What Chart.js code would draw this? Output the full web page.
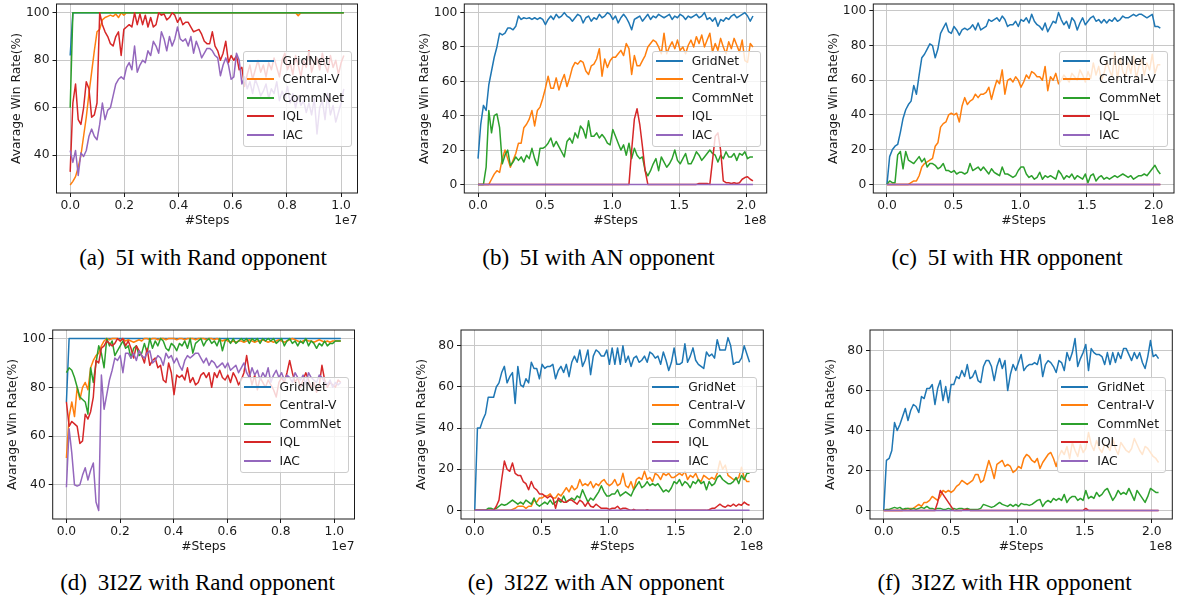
<!DOCTYPE html>
<html>
<head>
<meta charset="utf-8">
<script src="https://cdn.jsdelivr.net/npm/chart.js@4.4.1/dist/chart.umd.min.js"></script>
<style>
  html, body { margin:0; padding:0; background:#fff; }
  body { width:1179px; height:600px; position:relative; overflow:hidden; }
  canvas { position:absolute; }
  .cap { position:absolute; font-family:"Liberation Serif","Times New Roman",serif; font-size:23px; line-height:23px; color:#000; white-space:nowrap; transform:translateX(-50%); }
  .cap .lbl { margin-right:5px; }
  .leg { position:absolute; box-sizing:border-box; width:109px; height:96px; background:rgba(255,255,255,0.8); border:1px solid #cccccc; border-radius:3px; font-family:"DejaVu Sans",sans-serif; font-size:12.3px; color:#1a1a1a; }
  .leg .row { position:absolute; left:0; height:18px; width:100%; }
  .leg .sw { position:absolute; left:3px; top:8px; width:27px; height:2px; }
  .leg .tx { position:absolute; left:39px; top:0; line-height:18px; white-space:nowrap; }
  .off { position:absolute; font-family:"DejaVu Sans",sans-serif; font-size:12.3px; line-height:14px; color:#1a1a1a; transform:translate(-100%,-50%); white-space:nowrap; }
</style>
</head>
<body>
<script>
// ---------------- data ----------------
const NAMES = ['GridNet', 'Central-V', 'CommNet', 'IQL', 'IAC'];
const COLORS = ['#1f77b4', '#ff7f0e', '#2ca02c', '#d62728', '#9467bd'];

const X_TICKS_E7 = [0, 0.2e7, 0.4e7, 0.6e7, 0.8e7, 1.0e7];
const X_TICKS_E8 = [0, 0.5e8, 1.0e8, 1.5e8, 2.0e8];
const Y_TICKS_40_100 = [40, 60, 80, 100];
const Y_TICKS_0_100 = [0, 20, 40, 60, 80, 100];
const Y_TICKS_0_80 = [0, 20, 40, 60, 80];

const CAPTION_LABELS = ['(a)', '(b)', '(c)', '(d)', '(e)', '(f)'];
const CAPTION_TEXTS = ['5I with Rand opponent', '5I with AN opponent', '5I with HR opponent',
  '3I2Z with Rand opponent', '3I2Z with AN opponent', '3I2Z with HR opponent'];

const STEPS_END_A = 1.01e7;
const STEPS_END_D = 1.024e7;
const STEPS_END_LONG = 2.05e8;

// (a) 5I with Rand opponent
const A_GRIDNET = [82,100,100,100,100,100,100,100,100,100,
100,100,100,100,100,100,100,100,100,100,
100,100,100,100,100,100,100,100,100,100,
100,100,100,100,100,100,100,100,100,100,
100,100,100,100,100,100,100,100,100,100,
100,100,100,100,100,100,100,100,100,100,
100,100,100,100,100,100,100,100,100,100,
100,100,100,100,100,100,100,100,100,100,
100,100,100,100,100,100,100,100,100,100,
100,100,100,100,100,100,100,100,100,100,
100,100,100];
const A_CENTRALV = [27.5,29,31,35,40,48,56,66,75,84,
92,93,97,98,98.5,99,98.5,99.5,98,100,
99,100,100,100,100,100,100,100,100,100,
100,100,100,100,100,100,100,100,100,100,
100,100,100,100,100,100,100,100,100,100,
100,100,100,100,100,100,100,100,100,100,
100,100,100,100,100,100,100,100,100,100,
100,100,100,100,100,100,100,100,100,100,
100,100,100,100,100,98.8,100,100,100,100,
100,100,100,100,100,100,100,100,100,100,
100,100,100];
const A_COMMNET = [60,100,100,100,100,100,100,100,100,100,
100,100,100,100,100,100,100,100,100,100,
100,100,100,100,100,100,100,100,100,100,
100,100,100,100,100,100,100,100,100,100,
100,100,100,100,100,100,100,100,100,100,
100,100,100,100,100,100,100,100,100,100,
100,100,100,100,100,100,100,100,100,100,
100,100,100,100,100,100,100,100,100,100,
100,100,100,100,100,100,100,100,100,100,
100,100,100,100,100,100,100,100,100,100,
100,100,100];
const A_IQL = [33,62,70,55,53,60,71,68,56,57,
62,100,95,92,90,87,86,90,92,82,
93,94,95,94,100,95,99.5,95,99,94,
98,94,95,100,99,99.5,97,98,100,99,
96,98,95,96,96,94,92,92.5,93,91,
88,87,87,92,86,84,80,83,88,79,
82,80,82,76,77,69,74,78,72,76,
80,75,78,73,79,76,81,77,73,80,
83,76,79,74,82,78,73,80,77,84,
75,79,81,76,83,78,75,82,77,80,
74,79,82];
const A_IAC = [42,37,42,31.5,41,39.5,42,48,51,48,
46.5,53,62,55,59,60,65,70,72,73,
72,77,79,76,86,75,78,80,79,84,
82,88,86,83,92,89,84,90,86,89,
94,89,88,89,86,90,83,88,85,81,
83,85,85,84,82,81,73.5,78,81,78,
72,73,83,80,70,73,68,71,66,72,
69,65,67,70,64,68,66,71,63,67,
64,69,62,66,60,65,61,63,58,62,
57,64,49,60,63,55,66,57,61,54,
58,62,68];

// (b) 5I with AN opponent
const B_GRIDNET = [15,35,46,43,58,66,74,80,88,87,
88,91,91,90,92,98,96,97,96.5,97,
96,97,96,97,96,93,96,98,96,99,
97,98,100,98,97,95,97,99,98,94,
97,98,95,97,96,99,97,98,100,99,
96,98,94,97,99,97,94,90,96,97,
98,95,97,99,96,98,97,99,98,97,
98,99,96,98,97,99,98,96,98,97,
98,99,97,98,100,96,97,95,97,92,
96,95,97,96,98,99,97,98,99,100,
98,95,98];
const B_CENTRALV = [0,0,0,0,0,3,6,8,7,15,
20,15,10,14,18,24,24,33,35,38,
43,34,43,45,50,56,63,56,56,62,
55,60,64,57,62,68,71,70,72,71,
66,64,69,70,73,79,63,73,68,72,
74,74,76,78,75,82,79,64,75,69,
69,72,75,80,82,84,83,80,76,88,
76,80,83,79,84,78,80,76,81,84,
80,86,82,87,80,84,88,77,82,78,
85,80,76,83,79,85,81,77,84,72,
71,82,80];
const B_COMMNET = [0,0,0,10,43,30,40,41,33,12,
17,20,11,13,16,14,16,13,17,15,
21,15,11,21,21,22,24,27,22,25,
22,19,16,25,27,24,30,27,34,32,
27,37,28,28,30,27,29,27,24,23,
32,28,24,20,23,17,24,15,21,17,
15,16,8,5,8,12,15,8,16,13,
10,12,15,20,14,12,15,18,12,12,
15,19,17,14,16,18,20,18,17,13,
17,15,19,16,16,18,14,18,17,19,
15,16,16];
const B_IQL = [0,0,0,0,0,0,0,0,0,0,
0,0,0,0,0,0,0,0,0,0,
0,0,0,0,0,0,0,0,0,0,
0,0,0,0,0,0,0,0,0,0,
0,0,0,0,0,0,0,0,0,0,
0,0,0,0,0,0,0,20,38,44,
35,22,8,0,0,0,0,0,0,0,
0,0,0,0,0,0,0,0,0,0,
0,0,0.5,0.5,0.5,0.5,0,14,28,30,
20,2,1,1,0.5,1,0.5,1,3,4,
4.5,3,2];
const B_IAC = [0, 0];

// (c) 5I with HR opponent
const C_GRIDNET = [0,16,20,22,23,30,38,43,46,48,
57,52,63,73,75,78,81,80,73,78,
87,90,93,88,87,91,89,86,89,90,
89,90,92,89,93,89,90,91,95,94,
95,96,94,97,95,91,92,92,94,91,
95,94,96,93,98,94,92,91,89,93,
88,91,94,93,99,95,92,94,90,96,
94,89,93,96,92,94,96,97,94,95,
93,95,93,95,94,96,94,95,97,96,
96,97,98,97,98,98,97,96,97,98,
91,91,90];
const C_CENTRALV = [0,0,0,0,0,0,0,0,0,1,
2,2,5,10,12,13,14,15,22,24,
33,35,36,40,41,40,41,36,45,50,
46,48,49,52,50,52,52,53,56,49,
55,60,58,66,52,60,61,59,62,60,
56,59,63,61,65,64,62,62,60,68,
54,62,60,64,58,60,63,61,59,64,
62,60,66,63,59,65,61,70,63,68,
60,64,71,66,62,76,60,73,65,62,
70,64,74,61,68,72,63,70,66,75,
64,69,69];
const C_COMMNET = [0,2,1,1,17,19,9,19,14,13,
12,14,16,13,15,10,12,12,11,9,
10,12,8,8,7,8,6,7,7,6,
7,12,8,9,10,8,10,8,6,9,
7,6,5,10,6,6,5,4,5,8,
10,10,6,4,5,3,4,7,3,5,
4,5,4,3,8,6,3,5,4,6,
3,5,4,3,6,1,5,6,2,4,
5,3,4,3,4,5,4,5,6,5,
4,5,3,4,5,5,6,5,7,9,
11,8,6];
const C_IQL = [0, 0];
const C_IAC = [0, 0];

// (d) 3I2Z with Rand opponent
const D_GRIDNET = [74,100,100,100,100,100,100,100,100,100,
100,100,100,100,100,100,100,100,100,100,
100,100,100,100,100,100,100,100,100,100,
100,100,100,100,100,100,100,100,100,100,
100,100,100,100,100,100,100,100,100,100,
100,100,100,100,100,100,100,100,100,100,
100,100,100,100,100,100,100,100,100,100,
100,100,100,100,100,100,100,100,100,100,
100,100,100,100,100,100,100,100,100,100,
100,100,100,100,100,100,100,100,100,100,
100,100,100];
const D_CENTRALV = [51,68,74,68,80,75,80,82,79,88,
91,93,94,97,99,100,99.5,100,100,100,
99,100,99,99.5,99,98.5,99,99.5,99,100,
100,99.5,100,100,99.5,100,100,99.5,100,100,
100,99.5,100,100,99.5,100,100,100,99.5,100,
100,100,99.5,100,100,99.5,100,99.5,99,99.5,
99,98.5,99,98.5,99,99,98.5,99,99.5,99,
98.5,99,99,99.5,99,98.5,99,98.5,99,99.5,
99,98.5,99,99.5,100,99.5,99,98.5,99,99.5,
99,99,98.5,99,99.5,99,98.5,99,98.5,99,
99,99,99];
const D_COMMNET = [86,88,87,84,80,76,75,74,69,88,
82,90,97,94,88,100,97,99,93,95,
97,99,96,97,92,96,97,93,94,98,
94,100,96,99,97,100,99,96,95,98,
97,95,98,97,99,96,100,94,98,99,
100,97,99,100,98,99,97,100,95,99,
100,98,100,98,99,100,99,100,98,100,
99,100,98,100,99,100,99,100,98,99,
100,97,99,100,98,99,97,99,98,100,
97,99,98,96,98,97,99,97,98,98,
99,99,99];
const D_IQL = [74,64,66,65,64,57,58,69,67,70,
76,91,90,96,97,99,98,97,98,100,
99,100,97,99,96,92,97,95,93,90,
96,89,91,92,88,89,83,82,90,86,
77,85,84,85,83,88,82,84,81,82,
85,86,84,86,80,86,84,87,84,83,
85,82,86,84,81,83,86,93,86,81,
85,79,84,82,80,83,81,79,76,82,
84,82,86,91,86,82,84,80,83,86,
83,80,82,78,81,89,83,80,82,81,
80,83,82];
const D_IAC = [39,63,53,40,39.5,40,44,47,42,46,
49,33,29.5,85,71,77,83,87,92,91,
93,86,94,94,92,94,91,95,93,92,
94,95,90,91,93,92,89,94,92,93,
90,92,89,87,91,93,92,93,94,94,
92,90,92,89,91,90,88,89,90,88,
90,87,88,89,86,88,90,86,84,88,
85,87,83,86,84,88,82,85,87,84,
86,83,85,84,82,86,84,83,85,81,
86,84,83,82,85,84,82,81,83,80,
82,81,82];

// (e) 3I2Z with AN opponent
const E_GRIDNET = [0,40,40,44,47,55,55,55,60,62,
67,70,62,65,67,52,70,61,60,64,
62,72,69,69,64,71,69,70,70,71,
64,68,70,67,71,65,72,75,72,78,
70,73,78,66,75,78,77,75,75,78,
71,79,71,79,71,80,72,75,70,74,
75,72,73,75,72,77,76,74,75,71,
77,73,68,72,79,71,71,72,81,72,
75,79,73,71,70,69,77,75,76,74,
83,78,78,78,84,80,71,72,72,74,
80,76,72];
const E_CENTRALV = [0,0,0,0,0,0,0,0,0,0,
0,0,0,0,0.5,1,2,2,2,1,
2,2,5,4,6,6,7,7,8,6,
6,8,7,9,11,9,12,10,11,15,
12,13,12,14,11,13,12,14,15,13,
12,13,15,12,13,18,12,11,14,10,
15,16,15,19,15,16,14,18,17,15,
18,17,18,16,16,17,18,17,19,15,
17,16,18,15,14,17,16,15,16,15,
18,24,20,22,17,16,15,15,16,21,
16,14,14];
const E_COMMNET = [0,0,0,0,0,1,1,0.5,1,2,
3,2.5,3,4,5,4,3,4,3,5,
4,3,6,3,2,3,4,3,5,3,
4,5,4,7,4,5,6,5,7,6,
10,7,4,6,5,7,9,12,9,7,
7,8,8,10,7,8,9,8,7,10,
12,14,11,12,14,12,13,12,13,11,
9,10,9,11,14,13,15,12,14,13,
11,14,13,15,13,14,10,14,12,13,
16,17,15,14,13,13,14,16,13,17,
15,18,18];
const E_IQL = [0,0,0,0,0,0,0,0,2,5,
15,24,20,19,23,18,17,17,14,13,
10,14,11,10,8,8,7,6,7,6,
1,6,5,4,4,5,5,4,3,5,
4,2,4,2,1.5,3,2,1,1,1,
0.5,1,1,2,0.5,1,1,0.5,0,0.5,
0,0,0,0,0.3,0,0,0,0,0,
0,0,0,0,0,0,0,0,0,0,
0,0,0,0,0,0,0,0.3,1,1,
2,3,2,1.5,2.5,2,3,2,3,2.5,
4,3,2.5];
const E_IAC = [0, 0];

// (f) 3I2Z with HR opponent
const F_GRIDNET = [0,25,26,30,44,40,43,47,51,45,
50,53,52,49,57,56,61,61,63,53,
61,65,55,62,54,63,63,67,66,70,
67,73,66,67,70,65,64,72,75,75,
72,65,72,76,71,75,60,68,73,70,
74,78,70,72,73,73,74,73,78,67,
73,75,74,72,69,75,74,70,79,75,
79,86,72,76,79,83,70,81,79,78,
78,77,73,79,73,79,74,79,76,81,
81,78,75,79,76,79,74,71,77,85,
77,78,76];
const F_CENTRALV = [0,0,0,0,0,0,0,0,0.5,1,
1,1,2,3,2,4,4,5,7,6,
5,7,10,9,10,9,10,12,13,15,
14,13,14,15,18,18,14,15,20,25,
21,16,23,24,25,22,23,22,19,20,
22,21,26,28,27,25,24,26,21,24,
26,28,29,26,22,27,30,28,32,26,
34,30,27,33,29,31,39,33,30,35,
31,29,33,32,30,36,31,28,34,32,
30,29,31,36,33,30,28,32,31,29,
27,26,24];
const F_COMMNET = [0,0.5,0.5,1,1.5,1,1.5,0.5,1,1,
0.5,1,0.5,1,1.5,1,2,1,1,0.5,
1,1,0.5,0.5,1,0.5,1,0.5,1,1,
0.5,1,0.5,0.5,0.5,0.5,1,3,2.5,2,
1.5,2,3,4,3,2.5,2,3,2,3,
2,3.5,3,3,2.5,3,4,5,5.5,2,
4,5,4,6,5,6,5,8,4,6,
7,7,5,6,5,10,6,7,6,9,
7,8,10,11,8,5,7,10,8,9,
8,11,8,5,10,8,6,4,7,11,
10,9,9];
const F_IQL = [0,0,0,0,0,0,0,0,0,0,
0,0,0,0,0,0,0,0,0,0,
4,10,8,6,4,2,0,0,0,0,
0.5,0.5,0,0,0,0,0,0,0,0,
0,0,0,0,0,0,0,0,0,0,
0,0,0,0,0,0,0,0,0,0,
0,0,0,0,0,0,0,0,0,0,
0,0,0,0,0,1,0,0,0,0,
0,0,0,0,0,0,0,0,0,0,
0,0,0,0,0,0,0,0,0,0,
0,0,0];
const F_IAC = [0, 0];

// ---------------- layout (positions only) ----------------
const PANELS = [
  { L:56.5, R:357.5, T:4, B:193, xMin:-0.0505e7, xMax:1.0605e7, xEnd:STEPS_END_A, xTicks:X_TICKS_E7, div:1e7, off:'1e7',
    yMin:24.1, yMax:103.7, yTicks:Y_TICKS_40_100, series:[A_GRIDNET, A_CENTRALV, A_COMMNET, A_IQL, A_IAC], capX:203, capY:245.7 },
  { L:464.3, R:766.7, T:4, B:193, xMin:-0.1025e8, xMax:2.1525e8, xEnd:STEPS_END_LONG, xTicks:X_TICKS_E8, div:1e8, off:'1e8',
    yMin:-5, yMax:105, yTicks:Y_TICKS_0_100, series:[B_GRIDNET, B_CENTRALV, B_COMMNET, B_IQL, B_IAC], capX:598.5, capY:245.7 },
  { L:873.3, R:1174, T:4, B:193, xMin:-0.1025e8, xMax:2.1525e8, xEnd:STEPS_END_LONG, xTicks:X_TICKS_E8, div:1e8, off:'1e8',
    yMin:-4.95, yMax:103.95, yTicks:Y_TICKS_0_100, series:[C_GRIDNET, C_CENTRALV, C_COMMNET, C_IQL, C_IAC], capX:1007, capY:245.7 },
  { L:52.7, R:354.5, T:330, B:519, xMin:-0.0512e7, xMax:1.0752e7, xEnd:STEPS_END_D, xTicks:X_TICKS_E7, div:1e7, off:'1e7',
    yMin:26, yMax:103.5, yTicks:Y_TICKS_40_100, series:[D_GRIDNET, D_CENTRALV, D_COMMNET, D_IQL, D_IAC], capX:197.5, capY:570.7 },
  { L:461, R:763.3, T:330, B:519, xMin:-0.1025e8, xMax:2.1525e8, xEnd:STEPS_END_LONG, xTicks:X_TICKS_E8, div:1e8, off:'1e8',
    yMin:-4.2, yMax:87.7, yTicks:Y_TICKS_0_80, series:[E_GRIDNET, E_CENTRALV, E_COMMNET, E_IQL, E_IAC], capX:596, capY:570.7 },
  { L:870, R:1172.3, T:330, B:519, xMin:-0.1025e8, xMax:2.1525e8, xEnd:STEPS_END_LONG, xTicks:X_TICKS_E8, div:1e8, off:'1e8',
    yMin:-4.3, yMax:90.3, yTicks:Y_TICKS_0_80, series:[F_GRIDNET, F_CENTRALV, F_COMMNET, F_IQL, F_IAC], capX:1004.5, capY:570.7 }
];

// ---------------- drawing ----------------
Chart.defaults.font.family = "'DejaVu Sans', sans-serif";
Chart.defaults.font.size = 12.3;
Chart.defaults.color = '#1a1a1a';

function toXY(vals, xEnd) {
  const n = vals.length;
  return vals.map((v, i) => ({ x: xEnd * i / (n - 1), y: v }));
}

const framePlugin = {
  id: 'frame',
  afterDraw(chart) {
    const { ctx, chartArea: a } = chart;
    ctx.save();
    ctx.strokeStyle = '#1a1a1a';
    ctx.lineWidth = 1;
    ctx.strokeRect(a.left, a.top, a.right - a.left, a.bottom - a.top);
    ctx.restore();
  }
};

const GRID = { color:'#c8c8c8', lineWidth:1, drawTicks:true, tickLength:4, tickColor:'#1a1a1a', tickWidth:1 };

PANELS.forEach((p, idx) => {
  const cl = Math.floor(p.L) - 47;
  const yW = p.L - cl;
  const padTop = 12;
  const ct = p.T - padTop;
  const plotW = p.R - p.L, plotH = p.B - p.T;
  const W = Math.ceil(yW + plotW + 5);
  const padRight = W - yW - plotW;
  const H = Math.ceil(padTop + plotH + 35);
  const padBottom = H - (padTop + plotH + 35);

  const cv = document.createElement('canvas');
  cv.width = W; cv.height = H;
  cv.style.left = cl + 'px'; cv.style.top = ct + 'px';
  cv.style.width = W + 'px'; cv.style.height = H + 'px';
  document.body.appendChild(cv);

  new Chart(cv, {
    type: 'line',
    data: {
      datasets: p.series.map((vals, k) => ({
        label: NAMES[k],
        data: toXY(vals, p.xEnd),
        borderColor: COLORS[k],
        backgroundColor: COLORS[k],
        borderWidth: 1.5,
        pointRadius: 0,
        pointHoverRadius: 0,
        tension: 0,
        fill: false,
        borderJoinStyle: 'round',
        order: 5 - k
      }))
    },
    options: {
      responsive: false,
      animation: false,
      events: [],
      layout: { padding: { left: 0, top: padTop, right: padRight, bottom: padBottom } },
      plugins: { legend: { display: false }, tooltip: { enabled: false } },
      scales: {
        x: {
          type: 'linear', position: 'bottom', bounds: 'data', min: p.xMin, max: p.xMax,
          afterBuildTicks: s => { s.ticks = p.xTicks.map(v => ({ value: v })); },
          afterFit: s => { s.height = 35; s.paddingLeft = 0; s.paddingRight = 0; },
          ticks: { autoSkip: false, maxRotation: 0, minRotation: 0, padding: 1.5, callback: v => (v / p.div).toFixed(1) },
          grid: GRID,
          border: { display: false },
          title: { display: true, text: '#Steps', padding: 0 }
        },
        y: {
          type: 'linear', position: 'left', bounds: 'data', min: p.yMin, max: p.yMax,
          afterBuildTicks: s => { s.ticks = p.yTicks.map(v => ({ value: v })); },
          afterFit: s => { s.width = yW; s.paddingTop = 0; s.paddingBottom = 0; },
          ticks: { autoSkip: false, padding: 3, callback: v => String(v) },
          grid: GRID,
          border: { display: false },
          title: { display: true, text: 'Avarage Win Rate(%)', padding: 0 }
        }
      }
    },
    plugins: [framePlugin]
  });

  // legend (matplotlib-style, inside the axes, centre right)
  const leg = document.createElement('div');
  leg.className = 'leg';
  leg.style.left = (p.R - 6 - 109) + 'px';
  leg.style.top = ((p.T + p.B) / 2 - 48) + 'px';
  NAMES.forEach((n, k) => {
    const row = document.createElement('div');
    row.className = 'row';
    row.style.top = (0.3 + 18.5 * k) + 'px';
    const sw = document.createElement('div');
    sw.className = 'sw';
    sw.style.background = COLORS[k];
    const tx = document.createElement('div');
    tx.className = 'tx';
    tx.textContent = n;
    row.appendChild(sw); row.appendChild(tx);
    leg.appendChild(row);
  });
  document.body.appendChild(leg);

  // scientific offset text
  const off = document.createElement('div');
  off.className = 'off';
  off.style.left = p.R + 'px';
  off.style.top = (p.B + 27) + 'px';
  off.textContent = p.off;
  document.body.appendChild(off);

  // caption
  const cap = document.createElement('div');
  cap.className = 'cap';
  cap.style.left = p.capX + 'px';
  cap.style.top = p.capY + 'px';
  const lbl = document.createElement('span');
  lbl.className = 'lbl';
  lbl.textContent = CAPTION_LABELS[idx];
  cap.appendChild(lbl);
  cap.appendChild(document.createTextNode(' ' + CAPTION_TEXTS[idx]));
  document.body.appendChild(cap);
});
</script>
</body>
</html>
